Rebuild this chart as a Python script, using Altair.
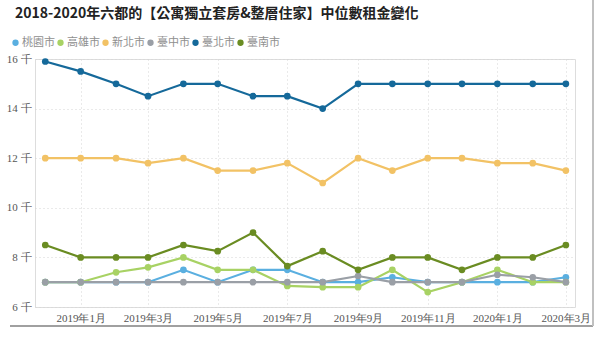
import altair as alt
import pandas as pd

months = ["2018-12-01", "2019-01-01", "2019-02-01", "2019-03-01", "2019-04-01",
          "2019-05-01", "2019-06-01", "2019-07-01", "2019-08-01", "2019-09-01",
          "2019-10-01", "2019-11-01", "2019-12-01", "2020-01-01", "2020-02-01",
          "2020-03-01"]

cities = ["桃園市", "高雄市", "新北市", "臺中市", "臺北市", "臺南市"]
colors = ["#5aafe0", "#a8d264", "#f2c265", "#9a9fa6", "#15699a", "#6a8c22"]

taoyuan = [7, 7, 7, 7, 7.5, 7, 7.5, 7.5, 7, 7, 7.2, 7, 7, 7, 7, 7.2]
kaohsiung = [7, 7, 7.4, 7.6, 8, 7.5, 7.5, 6.85, 6.8, 6.8, 7.5, 6.6, 7, 7.5, 7, 7]
new_taipei = [12, 12, 12, 11.8, 12, 11.5, 11.5, 11.8, 11, 12, 11.5, 12, 12, 11.8, 11.8, 11.5]
taichung = [7, 7, 7, 7, 7, 7, 7, 7, 7, 7.25, 7, 7, 7, 7.3, 7.2, 7]
taipei = [15.9, 15.5, 15, 14.5, 15, 15, 14.5, 14.5, 14, 15, 15, 15, 15, 15, 15, 15]
tainan = [8.5, 8, 8, 8, 8.5, 8.25, 9, 7.65, 8.25, 7.5, 8, 8, 7.5, 8, 8, 8.5]

y_ticks = [6, 8, 10, 12, 14, 16]
x_tick_months = [(2019, 1), (2019, 3), (2019, 5), (2019, 7), (2019, 9), (2019, 11),
                 (2020, 1), (2020, 3)]

series = [taoyuan, kaohsiung, new_taipei, taichung, taipei, tainan]
rows = []
for city, vals in zip(cities, series):
    for m, v in zip(months, vals):
        rows.append({"month": m, "city": city, "rent": v})
df = pd.DataFrame(rows)

sans = "Noto Sans CJK TC"
serif = "Liberation Serif"

x_enc = alt.X(
    "month:T",
    scale=alt.Scale(type="utc",
                    domain=[alt.DateTime(year=2018, month=11, date=22, utc=True),
                            alt.DateTime(year=2020, month=3, date=9, utc=True)]),
    axis=alt.Axis(
        title=None,
        values=[alt.DateTime(year=y, month=m, date=1, utc=True) for y, m in x_tick_months],
        format="%Y年%-m月",
        domain=False, ticks=False,
        labelFont=serif, labelFontSize=11, labelColor="#555",
        labelPadding=5,
        grid=True, gridDash=[1, 3], gridColor="#d4d4d4",
    ),
)
y_enc = alt.Y(
    "rent:Q",
    scale=alt.Scale(domain=[6, 16], nice=False, zero=False),
    axis=alt.Axis(
        title=None, values=y_ticks,
        labelExpr="datum.value + ' 千'",
        domain=False, ticks=False,
        labelFont=serif, labelFontSize=11, labelColor="#555",
        labelPadding=4,
        grid=True, gridDash=[1, 3], gridColor="#d4d4d4",
    ),
)
color_enc = alt.Color(
    "city:N",
    scale=alt.Scale(domain=cities, range=colors),
    legend=alt.Legend(
        title=None, orient="none", direction="horizontal",
        legendX=-25, legendY=-22,
        symbolType="circle", symbolSize=40, symbolStrokeWidth=0,
        labelFont=sans, labelFontSize=11, labelColor="#8f8f8f",
        columnPadding=0, symbolOffset=0, labelOffset=1,
    ),
)

base = alt.Chart(df)
lines = base.mark_line(strokeWidth=2.2, clip=False).encode(x=x_enc, y=y_enc, color=color_enc)
points = base.mark_point(filled=True, size=45, opacity=1, clip=False).encode(
    x=x_enc, y=y_enc, color=alt.Color("city:N", scale=alt.Scale(domain=cities, range=colors), legend=None))

frame_bottom = alt.Chart(df).mark_rule(color="#a0a0a0", strokeWidth=2).encode(
    x=alt.value(-25), x2=alt.value(558), y=alt.value(267))
frame_right = alt.Chart(df).mark_rule(color="#c0c0c0", strokeWidth=2).encode(
    x=alt.value(558), y=alt.value(-59), y2=alt.value(267))

chart = alt.layer(lines, points, frame_bottom, frame_right).properties(
    width=540, height=248,
    autosize=alt.AutoSizeParams(type="none"),
    padding={"left": 35, "top": 59, "right": 25, "bottom": 30},
    title=alt.TitleParams(
        "2018-2020年六都的【公寓獨立套房&整層住家】中位數租金變化",
        anchor="start", frame="group", dx=-20, offset=-22,
        font=sans, fontSize=14, fontWeight="bold", color="#222",
    ),
).configure_view(stroke=None).configure(background="white")

chart.save("out.html", embed_options={"renderer": "svg", "actions": False})
